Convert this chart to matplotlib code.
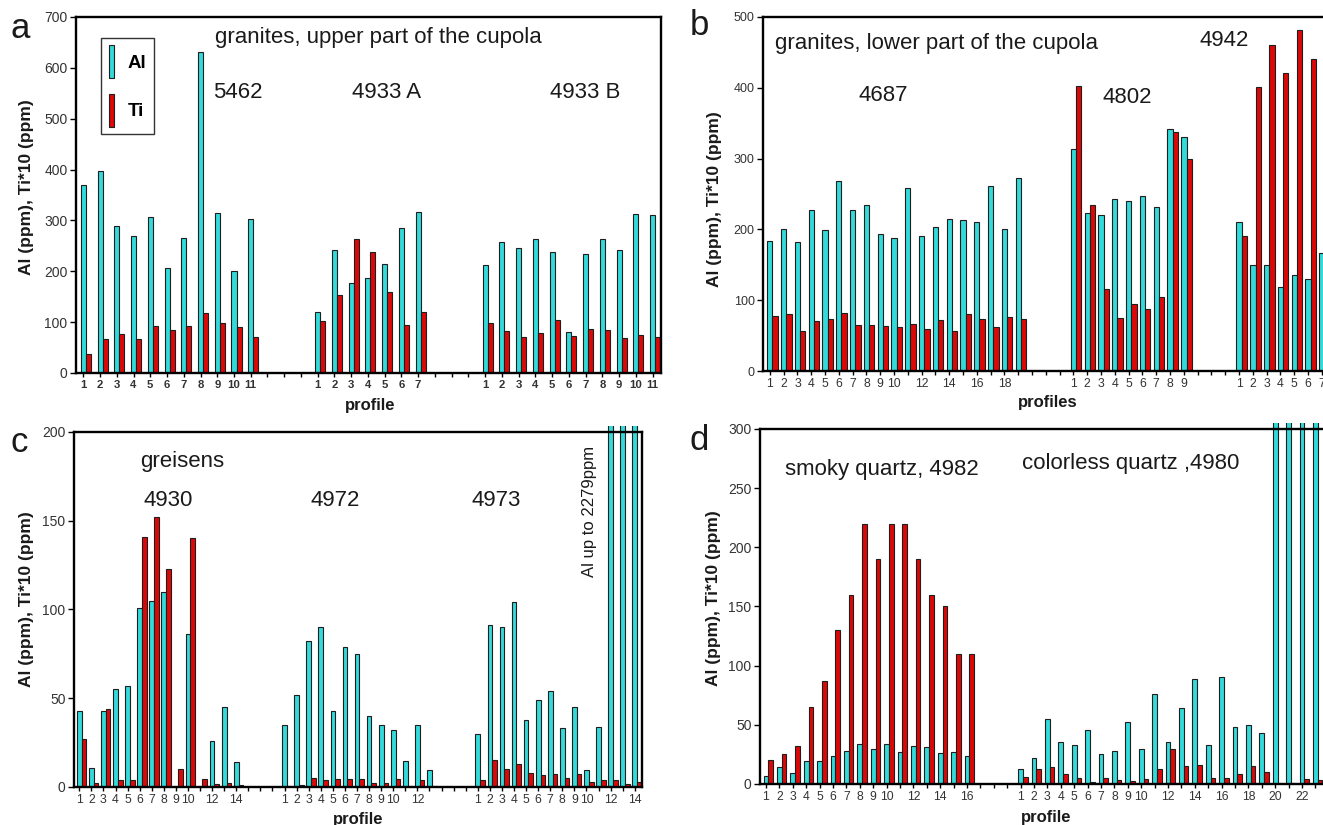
import numpy as np
import matplotlib
matplotlib.use('Agg')
import matplotlib.pyplot as plt
from matplotlib.patches import Patch
from matplotlib.transforms import Bbox, TransformedBbox

plt.rcParams['font.family'] = ['Liberation Sans', 'DejaVu Sans']

# ---------------- data ----------------
# panel a: granites, upper part of the cupola
a_al_5462 = [370, 397, 289, 270, 307, 206, 266, 631, 315, 200, 303]
a_ti_5462 = [38, 66, 76, 66, 92, 85, 92, 118, 99, 90, 70]
a_al_4933A = [119, 242, 176, 187, 214, 286, 317]
a_ti_4933A = [103, 154, 264, 238, 159, 94, 120]
a_al_4933B = [212, 258, 246, 263, 238, 80, 234, 264, 242, 312, 310]
a_ti_4933B = [99, 82, 70, 79, 105, 72, 87, 85, 68, 74, 70]
a_lab_5462 = list(range(1, 12))
a_lab_4933A = list(range(1, 8))
a_lab_4933B = list(range(1, 12))

# panel b: granites, lower part of the cupola
b_al_4687 = [184, 200, 182, 228, 199, 268, 228, 235, 194, 188, 258, 190, 203, 215, 213, 211, 261, 200, 273]
b_ti_4687 = [77, 81, 57, 71, 74, 82, 65, 65, 64, 62, 67, 60, 72, 57, 80, 74, 62, 76, 74]
b_al_4802 = [313, 223, 221, 243, 240, 247, 232, 342, 330]
b_ti_4802 = [402, 234, 116, 75, 94, 87, 104, 337, 300]
b_al_4942 = [210, 150, 150, 119, 135, 130, 167]
b_ti_4942 = [190, 401, 461, 421, 481, 441, np.nan]   # last one outside the picture
b_lab_4687 = [1, 2, 3, 4, 5, 6, 7, 8, 9, 10, 12, 14, 16, 18]
b_lab_4802 = list(range(1, 10))
b_lab_4942 = list(range(1, 8))

# panel c: greisens
c_al_4930 = [43, 10.5, 43, 55, 57, 101, 105, 110, 0, 86, 0, 26, 45, 14]
c_ti_4930 = [27, 2.5, 44, 3.8, 3.8, 141, 152, 123, 10, 140, 4.5, 1.5, 2, 1]
c_al_4972 = [35, 52, 82, 90, 43, 79, 75, 40, 35, 32, 14.5, 35, 9.5]
c_ti_4972 = [0.8, 1, 5, 4, 4.5, 4.5, 4.5, 2, 2, 4.5, 0.5, 4, 0.5]
c_al_4973 = [30, 91, 90, 104, 38, 49, 54, 33, 45, 9.5, 34, 1600, 2279, 1900]
c_ti_4973 = [4, 15, 10, 13, 8, 6.5, 7.5, 5, 7.5, 2.8, 4, 4, 1.9, 2.8]
c_lab_4930 = [1, 2, 3, 4, 5, 6, 7, 8, 9, 10, 12, 14]
c_lab_4972 = [1, 2, 3, 4, 5, 6, 7, 8, 9, 10, 12]
c_lab_4973 = [1, 2, 3, 4, 5, 6, 7, 8, 9, 10, 12, 14]

# panel d: quartz
d_al_4982 = [7, 14, 9, 19.5, 19.5, 24, 28, 33.5, 29.5, 33.5, 27, 32.5, 31, 26, 27, 23.5]
d_ti_4982 = [20, 25, 32, 65, 87, 130, 160, 220, 190, 220, 220, 190, 160, 150, 110, 110]
d_al_4980 = [12.7, 21.7, 54.7, 35.8, 33, 46, 25.4, 28, 52.7, 29.6, 75.8, 35.8, 64, 88.8,
             32.7, 90.5, 48, 50, 43.4, 350, 350, 350, 350]
d_ti_4980 = [6.2, 12.4, 14, 8.2, 4.8, 1.4, 4.8, 3.4, 2.5, 4, 12.7, 29.6, 15.2, 16,
             4.8, 4.8, 8.2, 15.2, 10, 0.5, 0.5, 4, 3]
d_lab_4982 = [1, 2, 3, 4, 5, 6, 7, 8, 9, 10, 12, 14, 16]
d_lab_4980 = [1, 2, 3, 4, 5, 6, 7, 8, 9, 10, 12, 14, 16, 18, 20, 22]

# ---------------- style ----------------
CYAN = '#33DADA'
RED = '#DC0808'
EDGE = '#1e1e1e'
TXT = '#1a1a1a'
TICKC = '#333333'
GAP = 3

fig = plt.figure(figsize=(13.23, 8.25), dpi=100)


def draw_panel(ax, groups, width, ymax, ystep, xlim, xbold, ysize, xsize=8.8):
    start = 0
    ticks, labels = [], []
    clip = TransformedBbox(Bbox([[0, 0], [1, 1.016]]), ax.transAxes)
    for al, ti, shown in groups:
        n = len(al)
        x = np.arange(n) + start
        b1 = ax.bar(x, al, width, color=CYAN, edgecolor=EDGE, linewidth=0.8, zorder=2)
        b2 = ax.bar(x + width, ti, width, color=RED, edgecolor=EDGE, linewidth=0.8, zorder=2)
        for p in list(b1) + list(b2):
            p.set_clip_box(clip)
        for k in range(n):
            ticks.append(start + k)
            labels.append(str(k + 1) if (k + 1) in shown else '')
        start += n + GAP
    ax.set_xlim(*xlim)
    ax.set_ylim(0, ymax)
    ax.set_xticks(ticks)
    ax.set_xticklabels(labels, fontweight='bold' if xbold else 'normal')
    ax.set_xticks(np.arange(0, xlim[1], 1), minor=True)
    ax.set_yticks(np.arange(0, ymax + 1, ystep))
    ax.tick_params(axis='x', which='both', length=3, width=1, direction='out',
                   labelsize=xsize, pad=2, labelcolor=TICKC)
    ax.tick_params(axis='y', length=4, width=1, direction='out',
                   labelsize=ysize, pad=2, labelcolor=TICKC)
    for s in ax.spines.values():
        s.set_linewidth(1.7)
        s.set_color('black')
        s.set_zorder(3)
    ax.set_ylabel('Al (ppm), Ti*10 (ppm)', fontsize=12.5, fontweight='bold', color=TXT)


# panel a
axa = fig.add_axes([0.0574, 0.5479, 0.4422, 0.4315])
draw_panel(axa, [(a_al_5462, a_ti_5462, a_lab_5462),
                 (a_al_4933A, a_ti_4933A, a_lab_4933A),
                 (a_al_4933B, a_ti_4933B, a_lab_4933B)],
           0.3, 700, 100, (-0.44, 34.5), True, 10, xsize=8.2)
axa.set_xlabel('profile', fontsize=12, fontweight='bold', color=TXT)
axa.xaxis.set_label_coords(0.5026, -0.07)
axa.yaxis.set_label_coords(-0.072, 0.522)
axa.text(0.2376, 0.941, 'granites, upper part of the cupola', transform=axa.transAxes,
         fontsize=16, va='center', ha='left', color=TXT)
for s, xf in [('5462', 0.234), ('4933 A', 0.472), ('4933 B', 0.810)]:
    axa.text(xf, 0.789, s, transform=axa.transAxes, fontsize=16, va='center', ha='left', color=TXT)
leg = axa.legend(handles=[Patch(facecolor=CYAN, edgecolor=EDGE, linewidth=0.8),
                          Patch(facecolor=RED, edgecolor=EDGE, linewidth=0.8)],
                 labels=['Al', 'Ti'], loc='upper left', bbox_to_anchor=(0.043, 0.941),
                 prop={'size': 13.5, 'weight': 'bold'}, handlelength=0.3, handleheight=2.3,
                 labelspacing=0.85, handletextpad=0.7, borderpad=0.4, borderaxespad=0,
                 fancybox=False, framealpha=1)
leg.get_frame().set_edgecolor('#333333')
leg.get_frame().set_linewidth(1.0)

# panel b
axb = fig.add_axes([0.5767, 0.5503, 0.4381, 0.4291])
draw_panel(axb, [(b_al_4687, b_ti_4687, b_lab_4687),
                 (b_al_4802, b_ti_4802, b_lab_4802),
                 (b_al_4942, b_ti_4942, b_lab_4942)],
           0.38, 500, 100, (-0.5, 41.5), False, 9)
axb.set_xlabel('profiles', fontsize=12, fontweight='bold', color=TXT)
axb.xaxis.set_label_coords(0.492, -0.068)
axb.yaxis.set_label_coords(-0.0707, 0.486)
axb.text(0.0207, 0.924, 'granites, lower part of the cupola', transform=axb.transAxes,
         fontsize=16, va='center', ha='left', color=TXT)
for s, xf, yf in [('4687', 0.164, 0.777), ('4802', 0.585, 0.774), ('4942', 0.754, 0.935)]:
    axb.text(xf, yf, s, transform=axb.transAxes, fontsize=16, va='center', ha='left', color=TXT)

# panel c
axc = fig.add_axes([0.0559, 0.0461, 0.4294, 0.4303])
draw_panel(axc, [(c_al_4930, c_ti_4930, c_lab_4930),
                 (c_al_4972, c_ti_4972, c_lab_4972),
                 (c_al_4973, c_ti_4973, c_lab_4973)],
           0.39, 200, 50, (-0.44, 46.6), False, 10)
axc.set_xlabel('profile', fontsize=12, fontweight='bold', color=TXT)
axc.xaxis.set_label_coords(0.5, -0.0704)
axc.yaxis.set_label_coords(-0.0704, 0.53)
axc.text(0.116, 0.918, 'greisens', transform=axc.transAxes, fontsize=16, va='center', ha='left', color=TXT)
for s, xf in [('4930', 0.123), ('4972', 0.417), ('4973', 0.70)]:
    axc.text(xf, 0.808, s, transform=axc.transAxes, fontsize=16, va='center', ha='left', color=TXT)
axc.text(0.908, 0.775, 'Al up to 2279ppm', transform=axc.transAxes, fontsize=12,
         rotation=90, va='center', ha='center', color=TXT)

# panel d
axd = fig.add_axes([0.5744, 0.0497, 0.4452, 0.4303])
draw_panel(axd, [(d_al_4982, d_ti_4982, d_lab_4982),
                 (d_al_4980, d_ti_4980, d_lab_4980)],
           0.35, 300, 50, (-0.45, 43.5), False, 10)
axd.set_xlabel('profile', fontsize=12, fontweight='bold', color=TXT)
axd.xaxis.set_label_coords(0.4856, -0.073)
axd.yaxis.set_label_coords(-0.066, 0.524)
axd.text(0.042, 0.885, 'smoky quartz, 4982', transform=axd.transAxes, fontsize=16,
         va='center', ha='left', color=TXT)
axd.text(0.445, 0.904, 'colorless quartz ,4980', transform=axd.transAxes, fontsize=16,
         va='center', ha='left', color=TXT)

# panel letters
for s, x, y in [('a', 0.0076, 0.954), ('b', 0.5215, 0.9576), ('c', 0.0076, 0.452), ('d', 0.5215, 0.4545)]:
    fig.text(x, y, s, fontsize=25, va='baseline', ha='left', color=TXT)

fig.savefig('out.png', dpi=100)
